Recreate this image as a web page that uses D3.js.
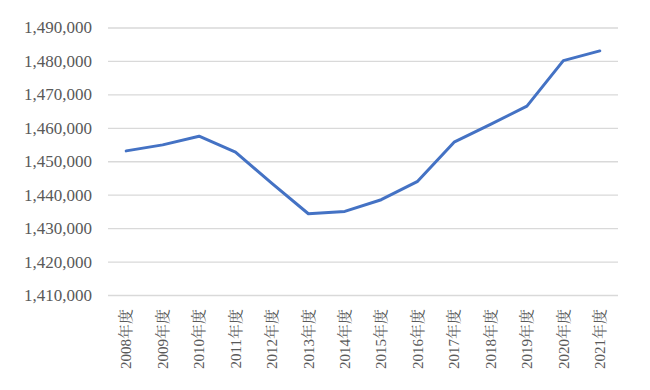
<!DOCTYPE html>
<html><head><meta charset="utf-8">
<script src="https://cdn.jsdelivr.net/npm/d3@7"></script>
<style>body{margin:0;background:#fff}</style>
</head><body><svg id="c" width="650" height="390"></svg>
<script>
const categories = ["2008年度","2009年度","2010年度","2011年度","2012年度","2013年度","2014年度","2015年度","2016年度","2017年度","2018年度","2019年度","2020年度","2021年度"];
const values = [1453100,1454900,1457500,1452700,1443400,1434300,1435000,1438500,1444000,1455700,1461000,1466500,1480100,1483000];
const yTicks = [1410000,1420000,1430000,1440000,1450000,1460000,1470000,1480000,1490000];

const svg = d3.select("#c");
const m = {l:108, r:32, t:27.5, b:95};
const W = 650, H = 390;
const FONT = "Liberation Serif, Noto Serif CJK JP, Noto Sans CJK JP, serif";
const x = d3.scaleBand().domain(categories).range([m.l, W - m.r]);
const y = d3.scaleLinear().domain([1410000, 1490000]).range([H - m.b, m.t]);

const yAxis = svg.append("g").attr("transform", `translate(${m.l},0)`)
  .call(d3.axisLeft(y).tickValues(yTicks).tickFormat(d3.format(",")).tickSize(-(W - m.l - m.r)).tickPadding(16));
yAxis.attr("font-family", FONT).attr("font-size", 17);
yAxis.select(".domain").remove();
yAxis.selectAll(".tick line").attr("stroke", "#d9d9d9").attr("stroke-width", 1.3);
yAxis.selectAll(".tick text").attr("fill", "#595959").attr("font-family", FONT).attr("font-size", 17);

const xAxis = svg.append("g").attr("transform", `translate(0,${H - m.b})`)
  .call(d3.axisBottom(x).tickSize(0));
xAxis.attr("font-family", FONT).attr("font-size", 15);
xAxis.select(".domain").remove();
xAxis.selectAll(".tick text")
  .attr("fill", "#595959").attr("font-family", FONT).attr("font-size", 15)
  .attr("transform", "rotate(-90)").attr("text-anchor", "end")
  .attr("x", -14).attr("y", 0).attr("dy", "0.35em");

const line = d3.line().x((d, i) => x(categories[i]) + x.bandwidth() / 2).y(d => y(d));
svg.append("path").datum(values).attr("d", line)
  .attr("fill", "none").attr("stroke", "#4472C4").attr("stroke-width", 3)
  .attr("stroke-linejoin", "round").attr("stroke-linecap", "round");
</script></body></html>
